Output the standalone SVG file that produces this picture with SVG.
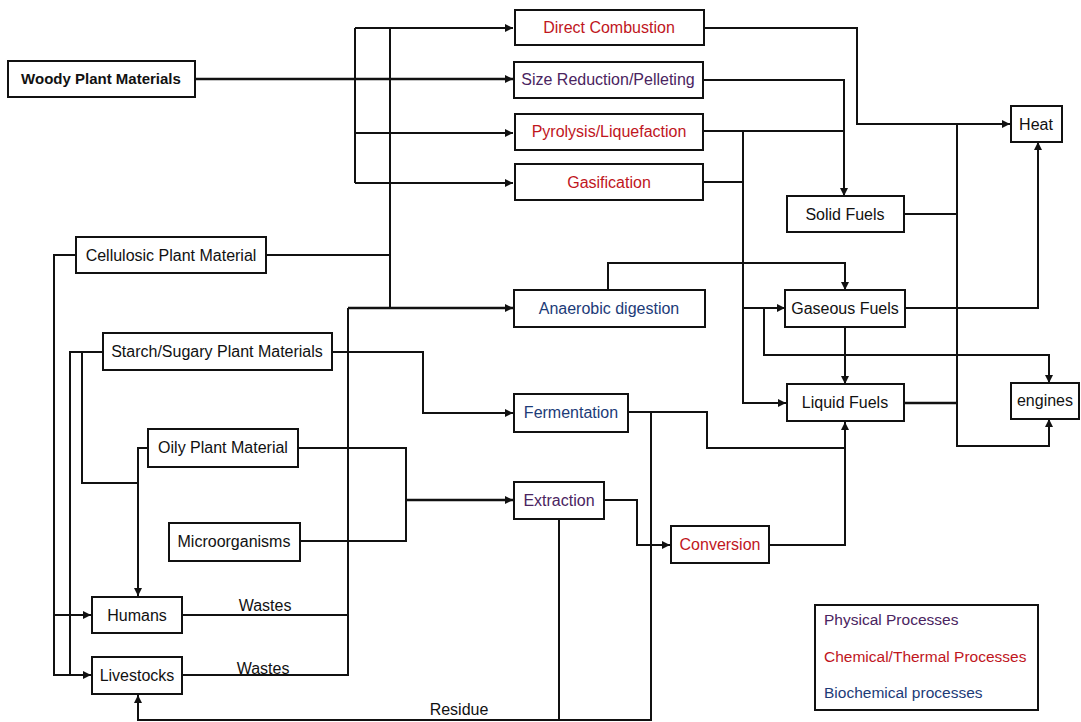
<svg xmlns="http://www.w3.org/2000/svg" width="1081" height="722" viewBox="0 0 1081 722">
<style>
.box{fill:#fff;stroke:#111;stroke-width:2}
.t{font-family:"Liberation Sans",Arial,sans-serif;font-size:16px;text-anchor:middle;fill:#111}
.b{font-weight:bold;font-size:15px}
.red{fill:#c0161d}
.pur{fill:#4a2460}
.blu{fill:#1c3b78}
.lt{font-family:"Liberation Sans",Arial,sans-serif;font-size:15.5px}
.c path{fill:none;stroke:#111;stroke-width:2}
.c .th{stroke-width:2.6}
.c .a{marker-end:url(#ah)}
</style>
<defs>
<marker id="ah" viewBox="0 0 10 10" refX="10" refY="5" markerWidth="9" markerHeight="8" markerUnits="userSpaceOnUse" orient="auto"><path d="M0,0 L10,5 L0,10 z" fill="#111"/></marker>
</defs>
<rect width="1081" height="722" fill="#fff"/>
<g class="c" id="connectors">
<path class="th a" d="M195,79 H513"/>
<path d="M355,28 V183"/>
<path class="a" d="M355,28 H513"/>
<path class="a" d="M355,133 H513"/>
<path class="a" d="M355,183 H513"/>
<path d="M390,28 V308"/>
<path d="M266,255 H390"/>
<path class="th a" d="M348,308 H513"/>
<path class="a" d="M76,255 H54 V675 H91"/>
<path class="a" d="M54,615 H91"/>
<path d="M103,352 H70 V675"/>
<path d="M82,352 V483 H138"/>
<path class="a" d="M332,352 H423 V413 H513"/>
<path class="a" d="M148,448 H138 V596"/>
<path d="M298,448 H406 V541 H300"/>
<path class="th a" d="M406,500 H513"/>
<path d="M182,615 H348"/>
<path d="M182,675 H348 V308"/>
<path class="a" d="M651,412 V720 H138 V695"/>
<path d="M559,519 V720"/>
<path class="a" d="M604,500 H637 V545 H670"/>
<path class="a" d="M769,545 H845 V422"/>
<path d="M628,412 H707 V448 H845"/>
<path class="a" d="M704,28 H857 V124 H1010"/>
<path class="a" d="M703,80 H844 V196"/>
<path d="M703,131 H844"/>
<path class="a" d="M743,131 V403 H786"/>
<path d="M703,182 H743"/>
<path class="a" d="M743,308 H785"/>
<path class="a" d="M764,308 V355 H1049 V383"/>
<path class="a" d="M608,290 V263 H845 V290"/>
<path class="a" d="M905,308 H1038 V142"/>
<path class="a" d="M845,327 V384"/>
<path d="M904,214 H957"/>
<path class="a" d="M957,124 V446 H1049 V419"/>
<path class="th" d="M904,403 H957"/>
</g>
<g id="woody"><rect class="box" x="8" y="61" width="187" height="36"/><text class="t b" x="101" y="84">Woody Plant Materials</text></g>
<g id="direct-combustion"><rect class="box" x="515" y="10" width="189" height="35"/><text class="t red" x="609" y="33">Direct Combustion</text></g>
<g id="size-reduction"><rect class="box" x="514" y="62" width="189" height="36"/><text class="t pur" x="608" y="85">Size Reduction/Pelleting</text></g>
<g id="pyrolysis"><rect class="box" x="515" y="114" width="188" height="36"/><text class="t red" x="609" y="137">Pyrolysis/Liquefaction</text></g>
<g id="gasification"><rect class="box" x="515" y="164" width="188" height="36"/><text class="t red" x="609" y="188">Gasification</text></g>
<g id="heat"><rect class="box" x="1011" y="106" width="51" height="36"/><text class="t" x="1036" y="130">Heat</text></g>
<g id="solid-fuels"><rect class="box" x="787" y="196" width="117" height="36"/><text class="t" x="845" y="220">Solid Fuels</text></g>
<g id="cellulosic"><rect class="box" x="76" y="237" width="190" height="36"/><text class="t" x="171" y="261">Cellulosic Plant Material</text></g>
<g id="anaerobic"><rect class="box" x="514" y="290" width="191" height="37"/><text class="t blu" x="609" y="314">Anaerobic digestion</text></g>
<g id="gaseous-fuels"><rect class="box" x="785" y="290" width="120" height="37"/><text class="t" x="845" y="314">Gaseous Fuels</text></g>
<g id="starch"><rect class="box" x="103" y="333" width="229" height="37"/><text class="t" x="217" y="357">Starch/Sugary Plant Materials</text></g>
<g id="fermentation"><rect class="box" x="514" y="394" width="114" height="38"/><text class="t blu" x="571" y="418">Fermentation</text></g>
<g id="liquid-fuels"><rect class="box" x="787" y="384" width="117" height="37"/><text class="t" x="845" y="408">Liquid Fuels</text></g>
<g id="engines"><rect class="box" x="1011" y="383" width="68" height="36"/><text class="t" x="1045" y="406">engines</text></g>
<g id="oily"><rect class="box" x="148" y="429" width="150" height="38"/><text class="t" x="223" y="453">Oily Plant Material</text></g>
<g id="extraction"><rect class="box" x="514" y="482" width="90" height="37"/><text class="t pur" x="559" y="506">Extraction</text></g>
<g id="microorganisms"><rect class="box" x="169" y="523" width="131" height="38"/><text class="t" x="234" y="547">Microorganisms</text></g>
<g id="conversion"><rect class="box" x="671" y="526" width="98" height="37"/><text class="t red" x="720" y="550">Conversion</text></g>
<g id="humans"><rect class="box" x="92" y="597" width="90" height="36"/><text class="t" x="137" y="621">Humans</text></g>
<g id="livestocks"><rect class="box" x="92" y="657" width="90" height="37"/><text class="t" x="137" y="681">Livestocks</text></g>
<g id="labels">
<text class="t" x="265" y="611">Wastes</text>
<text class="t" x="263" y="674">Wastes</text>
<text class="t" x="459" y="715">Residue</text>
</g>
<g id="legend">
<rect class="box" x="815" y="605" width="223" height="105"/>
<text class="lt pur" x="824" y="625">Physical Processes</text>
<text class="lt red" x="824" y="662">Chemical/Thermal Processes</text>
<text class="lt blu" x="824" y="698">Biochemical processes</text>
</g>
</svg>
